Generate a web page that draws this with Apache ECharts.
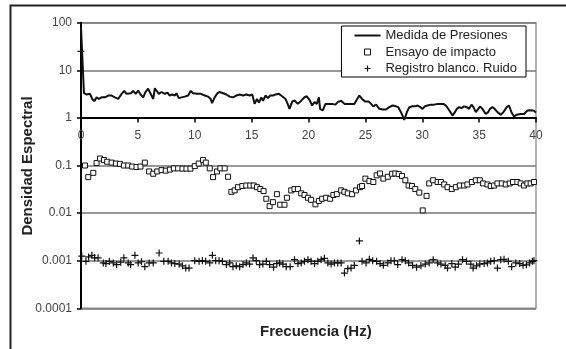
<!DOCTYPE html>
<html>
<head>
<meta charset="utf-8">
<script src="https://cdn.jsdelivr.net/npm/echarts@6/dist/echarts.min.js"></script>
<style>
  html, body { margin: 0; padding: 0; background: #fff; }
  #chart { width: 566px; height: 349px; }
</style>
</head>
<body>
<div id="chart"></div>
<script>
// Medida de Presiones (line)
const presFreq = [0, 0.26, 0.5, 0.79, 0.99, 1.17, 1.37, 1.58, 1.81, 2.1, 2.4, 2.69, 2.98, 3.27, 3.57, 3.8, 4.0, 4.15, 4.39, 4.59,
  4.8, 5.03, 5.23, 5.47, 5.67, 5.9, 6.05, 6.2, 6.35, 6.49, 6.64, 6.84, 7.08, 7.22, 7.37, 7.6, 7.8, 8.0, 8.25, 8.39,
  8.6, 8.83, 8.98, 9.12, 9.42, 9.65, 9.85, 10.0, 10.23, 10.53, 10.88, 11.17, 11.4, 11.52, 11.75, 11.99, 12.19, 12.49, 12.78, 13.07,
  13.36, 13.65, 13.95, 14.24, 14.53, 14.82, 15.06, 15.26, 15.47, 15.64, 15.85, 16.0, 16.23, 16.43, 16.64, 16.87, 17.1, 17.4, 17.6, 17.75,
  17.98, 18.19, 18.33, 18.57, 18.77, 19.06, 19.36, 19.65, 19.85, 20.09, 20.32, 20.53, 20.73, 20.91, 21.02, 21.26, 21.49, 21.78, 22.08, 22.37,
  22.57, 22.87, 23.16, 23.45, 23.74, 24.03, 24.24, 24.47, 24.71, 25.0, 25.29, 25.5, 25.7, 25.94, 26.23, 26.52, 26.81, 27.1, 27.4, 27.69,
  27.89, 28.13, 28.42, 28.65, 28.86, 29.15, 29.36, 29.59, 29.82, 30.03, 30.23, 30.47, 30.76, 31.05, 31.35, 31.64, 31.87, 32.08, 32.37, 32.66,
  32.87, 33.04, 33.25, 33.45, 33.68, 33.92, 34.12, 34.33, 34.5, 34.71, 34.85, 35.09, 35.29, 35.58, 35.79, 35.96, 36.17, 36.37, 36.61, 36.9,
  37.13, 37.43, 37.63, 37.84, 38.07, 38.31, 38.66, 38.95, 39.25, 39.48, 39.6, 39.77, 40.0];
const presVal = [80, 3.3, 3.1, 3.2, 2.5, 2.25, 2.7, 2.5, 2.7, 2.7, 2.95, 2.95, 2.7, 2.5, 3.2, 3.7, 3.2, 3.5, 3.3, 3.7,
  3.2, 3.76, 3.1, 2.7, 3.5, 4.1, 4.4, 2.95, 2.5, 4.2, 4.5, 3.2, 3.5, 3.3, 3.2, 3.4, 2.95, 3.1, 2.95, 3.3,
  2.6, 2.7, 2.95, 2.8, 2.95, 3.7, 3.3, 3.1, 3.2, 3.2, 2.95, 2.8, 2.5, 2.05, 2.7, 3.3, 3.5, 3.3, 3.1, 2.8,
  2.7, 2.95, 3.1, 2.95, 3.1, 2.95, 3.1, 1.97, 2.5, 2.1, 2.7, 2.3, 2.95, 2.6, 2.95, 2.95, 3.1, 3.2, 2.95, 3.2,
  2.5, 1.9, 1.55, 2.2, 2.32, 1.97, 2.3, 2.72, 2.85, 2.4, 1.82, 2.15, 1.97, 2.72, 1.55, 1.43, 1.97, 1.97, 1.97, 1.9,
  2.15, 2.3, 1.97, 1.97, 1.97, 1.97, 2.4, 2.95, 2.5, 2.2, 2.2, 1.97, 1.75, 1.9, 1.55, 1.5, 1.5, 1.68, 1.82, 1.75,
  1.68, 1.32, 0.91, 1.32, 1.68, 1.75, 1.75, 1.82, 1.68, 1.55, 1.75, 1.82, 1.9, 1.9, 1.97, 1.97, 1.97, 1.82, 1.45, 1.12,
  1.32, 1.55, 1.68, 1.6, 1.75, 1.68, 1.55, 1.9, 1.68, 1.32, 1.21, 1.75, 1.55, 1.21, 1.32, 1.55, 1.68, 1.55, 1.32, 1.17,
  1.32, 1.68, 1.82, 1.32, 1.07, 1.17, 1.21, 1.21, 1.43, 1.45, 1.32, 1.43, 1.3];

// Ensayo de impacto (hollow squares)
const impFreq = [0.35, 0.64, 1.08, 1.37, 1.67, 2.02, 2.3, 2.69, 3.07, 3.42, 3.77, 4.15, 4.5, 4.88, 5.23, 5.61, 5.99, 6.35, 6.7, 7.08,
  7.45, 7.81, 8.16, 8.54, 8.92, 9.27, 9.62, 10.0, 10.35, 10.73, 10.97, 11.32, 11.61, 11.96, 12.25, 12.63, 12.93, 13.22, 13.51, 13.8,
  14.18, 14.53, 14.88, 15.18, 15.47, 15.76, 16.05, 16.29, 16.58, 16.87, 17.22, 17.51, 17.89, 18.1, 18.48, 18.77, 19.07, 19.36, 19.65, 19.95,
  20.23, 20.61, 20.91, 21.2, 21.55, 21.9, 22.19, 22.49, 22.87, 23.16, 23.45, 23.83, 24.18, 24.53, 24.71, 25.0, 25.35, 25.7, 25.99, 26.29,
  26.58, 26.97, 27.35, 27.63, 27.93, 28.22, 28.51, 28.8, 29.1, 29.39, 29.74, 30.04, 30.38, 30.61, 30.96, 31.35, 31.64, 31.93, 32.22, 32.6,
  32.95, 33.3, 33.68, 33.97, 34.36, 34.71, 35.06, 35.35, 35.73, 36.02, 36.32, 36.61, 36.99, 37.34, 37.69, 37.98, 38.36, 38.65, 38.95, 39.24,
  39.53, 39.82];
const impVal = [0.1, 0.057, 0.07, 0.113, 0.14, 0.13, 0.12, 0.115, 0.11, 0.108, 0.1, 0.1, 0.095, 0.093, 0.095, 0.115, 0.075, 0.067, 0.075, 0.08,
  0.078, 0.082, 0.087, 0.087, 0.086, 0.086, 0.086, 0.097, 0.11, 0.13, 0.115, 0.087, 0.057, 0.075, 0.087, 0.087, 0.058, 0.028, 0.03, 0.035,
  0.037, 0.038, 0.038, 0.038, 0.035, 0.032, 0.029, 0.02, 0.014, 0.017, 0.025, 0.015, 0.015, 0.021, 0.03, 0.032, 0.032, 0.026, 0.024, 0.021,
  0.019, 0.0153, 0.018, 0.02, 0.021, 0.02, 0.024, 0.025, 0.03, 0.028, 0.026, 0.025, 0.03, 0.035, 0.037, 0.053, 0.047, 0.045, 0.062, 0.068,
  0.053, 0.058, 0.067, 0.068, 0.066, 0.06, 0.049, 0.038, 0.037, 0.032, 0.027, 0.0114, 0.023, 0.042, 0.049, 0.045, 0.045, 0.04, 0.035, 0.032,
  0.035, 0.038, 0.038, 0.04, 0.045, 0.049, 0.049, 0.042, 0.04, 0.037, 0.038, 0.042, 0.042, 0.04, 0.042, 0.045, 0.045, 0.042, 0.038, 0.042,
  0.042, 0.045];

// Registro blanco. Ruido (crosses)
const noiseFreq = [0, 0.07, 0.43, 0.67, 0.96, 1.2, 1.5, 1.96, 2.19, 2.49, 2.84, 3.13, 3.49, 3.77, 4.15, 4.36, 4.74, 5.03, 5.32, 5.61,
  5.99, 6.35, 6.87, 7.28, 7.66, 7.95, 8.25, 8.63, 8.92, 9.21, 9.5, 10.0, 10.38, 10.67, 10.96, 11.32, 11.55, 11.84, 12.14, 12.43,
  12.78, 13.07, 13.36, 13.65, 13.95, 14.24, 14.53, 14.82, 15.12, 15.41, 15.7, 15.99, 16.29, 16.58, 16.93, 17.22, 17.46, 17.75, 18.04, 18.39,
  18.77, 19.07, 19.36, 19.65, 19.95, 20.23, 20.53, 20.82, 21.11, 21.4, 21.7, 21.99, 22.28, 22.57, 22.87, 23.16, 23.45, 23.74, 24.03, 24.47,
  24.71, 25.06, 25.35, 25.64, 25.99, 26.29, 26.58, 26.97, 27.25, 27.54, 27.84, 28.22, 28.51, 28.8, 29.15, 29.5, 29.88, 30.26, 30.61, 30.96,
  31.35, 31.64, 32.02, 32.22, 32.6, 32.9, 33.18, 33.54, 33.89, 34.27, 34.47, 34.77, 35.06, 35.44, 35.73, 36.02, 36.32, 36.61, 36.9, 37.19,
  37.57, 37.86, 38.22, 38.57, 38.86, 39.15, 39.44, 39.68, 39.82];
const noiseVal = [25, 0.00125, 0.00097, 0.0012, 0.0013, 0.00115, 0.00115, 0.0009, 0.00087, 0.00097, 0.0009, 0.00083, 0.00093, 0.00115, 0.0009, 0.00083, 0.0013, 0.0009, 0.00095, 0.00075,
  0.0009, 0.0009, 0.00145, 0.00097, 0.00097, 0.0009, 0.00087, 0.00085, 0.00078, 0.0007, 0.0007, 0.001, 0.00097, 0.001, 0.00097, 0.0009, 0.0013, 0.001, 0.001, 0.00097,
  0.00083, 0.0009, 0.00075, 0.00078, 0.00075, 0.00083, 0.0009, 0.00085, 0.00115, 0.001, 0.00083, 0.00085, 0.00097, 0.00083, 0.00073, 0.00087, 0.0009, 0.00085, 0.00075, 0.00075,
  0.00105, 0.00087, 0.0009, 0.00097, 0.00105, 0.00097, 0.00087, 0.00097, 0.00105, 0.00112, 0.0009, 0.00085, 0.0009, 0.0009, 0.0009, 0.00055, 0.00068, 0.0007, 0.0008, 0.0026,
  0.00097, 0.0009, 0.00107, 0.001, 0.00097, 0.00087, 0.0008, 0.0009, 0.001, 0.001, 0.00083, 0.00105, 0.001, 0.0009, 0.0008, 0.00073, 0.00078, 0.00085, 0.0009, 0.00105,
  0.0009, 0.00085, 0.0008, 0.0007, 0.00087, 0.00073, 0.00085, 0.00105, 0.00097, 0.00085, 0.0007, 0.00078, 0.00085, 0.00087, 0.0009, 0.00097, 0.001, 0.0007, 0.00105, 0.00107,
  0.00097, 0.00075, 0.0009, 0.00087, 0.0008, 0.00082, 0.0009, 0.00097, 0.001];

const xTicks = [0, 5, 10, 15, 20, 25, 30, 35, 40];
const seriesNames = ['Medida de Presiones', 'Ensayo de impacto', 'Registro blanco. Ruido'];

const zip = (xs, ys) => xs.map((x, i) => [x, ys[i]]);

const font = '"Liberation Sans", Arial, sans-serif';
const crossPath = 'path://M0,5 L10,5 M5,0 L5,10';
const chart = echarts.init(document.getElementById('chart'));

chart.setOption({
  animation: false,
  grid: {
    left: 81, right: 30, top: 22.7, bottom: 40.7,
    show: true, borderColor: '#999', borderWidth: 1.5
  },
  legend: {
    orient: 'vertical',
    right: 40, top: 26,
    padding: [3, 9, 2, 13],
    itemGap: 3.5,
    itemWidth: 26, itemHeight: 6,
    symbolKeepAspect: true,
    backgroundColor: '#fff',
    borderColor: '#000', borderWidth: 1, borderRadius: 0,
    textStyle: { fontFamily: font, fontSize: 13, color: '#222' },
    data: [
      { name: seriesNames[0], icon: 'path://M0,0 L26,0 L26,2 L0,2 Z', itemStyle: { color: '#111', borderWidth: 0 } },
      { name: seriesNames[1], icon: 'path://M0,0 L10,0 L10,10 L0,10 Z', itemStyle: { color: '#fff', borderColor: '#111', borderWidth: 1 } },
      { name: seriesNames[2], icon: crossPath, itemStyle: { color: 'none', borderColor: '#111', borderWidth: 1.2 } }
    ]
  },
  xAxis: {
    type: 'value',
    min: 0, max: 40, interval: 5,
    offset: -190.7,
    axisLine: { lineStyle: { color: '#000', width: 2 } },
    axisTick: { show: true, length: 5, lineStyle: { color: '#000', width: 1.5 } },
    axisLabel: {
      margin: 12, fontFamily: font, fontSize: 12, color: '#444',
      formatter: v => xTicks.includes(v) ? String(v) : ''
    },
    splitLine: { show: false }
  },
  yAxis: {
    type: 'log', logBase: 10,
    min: 0.0001, max: 100, splitNumber: 6,
    axisLine: { show: true, lineStyle: { color: '#000', width: 2 } },
    axisTick: { show: true, length: 4, lineStyle: { color: '#000', width: 1.5 } },
    axisLabel: {
      margin: 9, fontFamily: font, fontSize: 12, color: '#444',
      formatter: v => v >= 1 ? String(Math.round(v)) : String(Number(v.toPrecision(1)))
    },
    splitLine: { show: true, lineStyle: { color: '#777', width: 1.5 } }
  },
  graphic: [
    {
      type: 'rect', silent: true, z: 100,
      shape: { x: 10.5, y: 5.5, width: 700, height: 500 },
      style: { fill: 'none', stroke: '#222', lineWidth: 2 }
    },
    {
      type: 'text', left: 260, top: 324,
      style: { text: 'Frecuencia (Hz)', fontFamily: font, fontSize: 15, fontWeight: 'bold', fill: '#222' }
    },
    {
      type: 'text', x: 27.5, y: 166, rotation: Math.PI / 2,
      style: {
        text: 'Densidad Espectral', fontFamily: font, fontSize: 15, fontWeight: 'bold', fill: '#222',
        align: 'center', verticalAlign: 'middle'
      }
    }
  ],
  series: [
    {
      name: seriesNames[0], type: 'line', symbol: 'none',
      data: zip(presFreq, presVal),
      lineStyle: { color: '#111', width: 2 },
      itemStyle: { color: '#111' },
      z: 3
    },
    {
      name: seriesNames[1], type: 'scatter',
      symbol: 'rect', symbolSize: 5,
      data: zip(impFreq, impVal),
      itemStyle: { color: '#fff', borderColor: '#111', borderWidth: 1, opacity: 1 }
    },
    {
      name: seriesNames[2], type: 'scatter',
      symbol: crossPath, symbolSize: 7,
      data: zip(noiseFreq, noiseVal),
      itemStyle: { color: 'none', borderColor: '#111', borderWidth: 1.2, opacity: 1 },
      z: 4
    }
  ]
});
</script>
</body>
</html>
